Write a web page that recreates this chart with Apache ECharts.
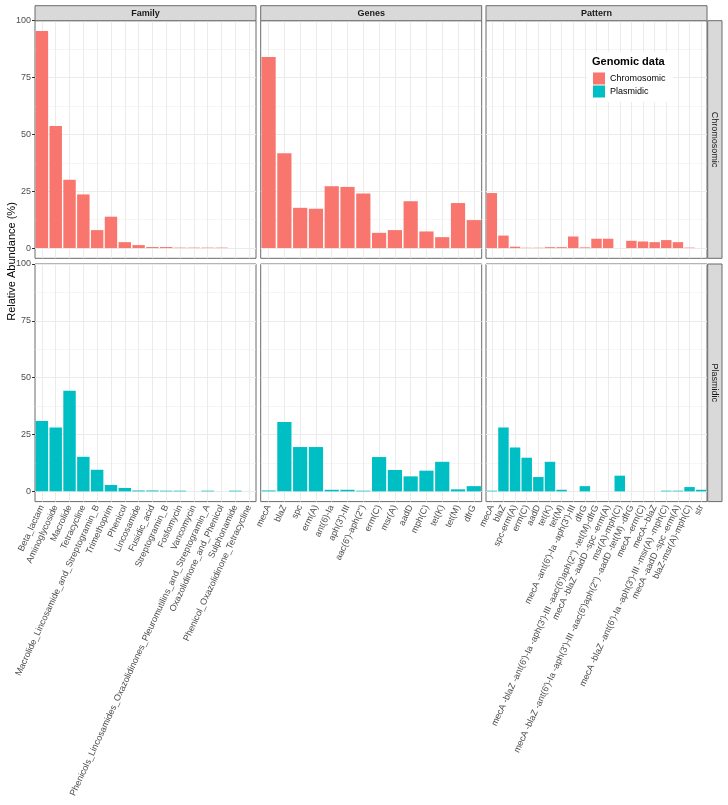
<!DOCTYPE html>
<html><head><meta charset="utf-8">
<script src="https://cdn.jsdelivr.net/npm/echarts@6/dist/echarts.min.js"></script>
<style>html,body{margin:0;padding:0;background:#fff}#c{width:728px;height:805px}</style>
</head><body><div id="c"></div>
<script>
// ---------- data ----------
const familyCats = ['Beta_lactam','Aminoglycoside','Macrolide','Tetracycline','Macrolide_Lincosamide_and_Streptogramin_B','Trimethoprim','Phenicol','Lincosamide','Fusidic_acid','Streptogramin_B','Fosfomycin','Vancomycin','Phenicols_Lincosamides_Oxazolidinones_Pleuromutilins_and_Streptogramin_A','Oxazolidinone_and_Phenicol','Sulphonamide','Phenicol_Oxazolidinone_Tetracycline'];
const familyChromosomic = [95.5,53.7,30.0,23.6,7.9,13.8,2.6,1.3,0.45,0.45,0.2,0.2,0.2,0.2,0,0];
const familyPlasmidic = [31.0,28.1,44.2,15.2,9.5,2.8,1.5,0.4,0.4,0.3,0.3,0,0.3,0,0.3,0];

const geneCats = ['mecA','blaZ','spc','erm(A)','ant(6)-Ia',"aph(3')-III","aac(6')-aph(2'')",'erm(C)','msr(A)','aadD','mph(C)','tet(K)','tet(M)','dfrG'];
const geneChromosomic = [84.0,41.7,17.7,17.3,27.2,26.9,24.0,6.7,7.9,20.6,7.3,4.8,19.8,12.3];
const genePlasmidic = [0.4,30.5,19.5,19.5,0.7,0.7,0.3,15.1,9.4,6.6,9.1,13.0,0.9,2.3];

const patternCats = ['mecA','blaZ','spc-erm(A)','erm(C)','aadD','tet(K)','tet(M)',
  "mecA -ant(6')-Ia -aph(3')-III",'dfrG',
  "mecA -blaZ -ant(6')-Ia -aph(3')-III -aac(6')aph(2'') -tet(M)-dfrG",
  'mecA -blaZ -aadD -spc -erm(A)','msr(A)-mph(C)',
  "mecA -blaZ -ant(6')-Ia -aph(3')-III -aac(6')aph(2'') -aadD -tet(M) -dfrG",
  'mecA -erm(C)','mecA--blaZ',
  "mecA -blaZ -ant(6')-Ia -aph(3')-III -msr(A) -mph(C)",
  'mecA -aadD -spc -erm(A)','blaZ-msr(A)-mph(C)','str'];
const patternChromosomic = [24.2,5.5,0.6,0.15,0.15,0.4,0.4,5.1,0.3,4.1,4.1,0,3.2,2.9,2.6,3.5,2.6,0.2,0];
const patternPlasmidic = [0.3,28.1,19.3,14.8,6.3,13.0,0.7,0,2.3,0,0,6.9,0,0,0,0.3,0.3,1.9,0.7];

const yTicks = [0,25,50,75,100];
const yMinorTicks = [12.5,37.5,62.5,87.5];
const colTitles = ['Family','Genes','Pattern'];
const rowTitles = ['Chromosomic','Plasmidic'];
const legendTitle = 'Genomic data';
const yTitle = 'Relative Abundance (%)';

// ---------- layout ----------
const FONT = "'Liberation Sans', Arial, Helvetica, sans-serif";
const COLORS = ['#F8766D','#00BFC4'];
const colLeft = [35, 260.7, 486];
const panelW = 221;
const rowTop = [20.7, 264];
const panelH = 237.6;
const yMin = -4.5;
const frame = '#6b6b6b';
const gridCol = '#EBEBEB';

const cats = [familyCats, geneCats, patternCats];
const values = [[familyChromosomic, geneChromosomic, patternChromosomic],
                [familyPlasmidic, genePlasmidic, patternPlasmidic]];

const grid = [], xAxis = [], yAxis = [], series = [];
for (let r = 0; r < 2; r++) {
  for (let c = 0; c < 3; c++) {
    const gi = r * 3 + c;
    grid.push({left: colLeft[c], top: rowTop[r], width: panelW, height: panelH,
      show: true, borderColor: frame, borderWidth: 1, backgroundColor: 'transparent'});
    xAxis.push({type: 'category', gridIndex: gi, data: cats[c],
      axisLine: {show: false}, splitLine: {show: false},
      axisTick: {show: r === 1, alignWithLabel: true, length: 3, lineStyle: {color: '#333'}},
      axisLabel: {show: r === 1, rotate: 65, interval: 0, fontSize: 9, color: '#4D4D4D',
                  margin: 4, fontFamily: FONT, hideOverlap: false}});
    yAxis.push({type: 'value', gridIndex: gi, min: yMin, max: 100,
      axisLine: {show: false}, splitLine: {show: false},
      axisTick: {show: c === 0, length: 3, customValues: yTicks, lineStyle: {color: '#333'}},
      axisLabel: {show: c === 0, customValues: yTicks, fontSize: 9, color: '#4D4D4D',
                  margin: 4, fontFamily: FONT}});
    const ml = [];
    yTicks.forEach(v => ml.push({yAxis: v, lineStyle: {width: 1}}));
    yMinorTicks.forEach(v => ml.push({yAxis: v, lineStyle: {width: 0.5}}));
    cats[c].forEach(k => ml.push({xAxis: k, lineStyle: {width: 1}}));
    series.push({type: 'bar', name: rowTitles[r], xAxisIndex: gi, yAxisIndex: gi,
      data: values[r][c], barWidth: '90%', z: 2,
      itemStyle: {color: COLORS[r]},
      markLine: {silent: true, z: 1, symbol: ['none','none'], label: {show: false},
        lineStyle: {color: gridCol, type: 'solid', width: 1}, emphasis: {disabled: true},
        animation: false, data: ml}});
  }
}

const graphic = [];
for (let c = 0; c < 3; c++) {
  graphic.push({type: 'rect', shape: {x: colLeft[c], y: 5.7, width: panelW, height: 15},
    style: {fill: '#D9D9D9', stroke: frame, lineWidth: 1}, z: 5});
  graphic.push({type: 'text', x: colLeft[c] + panelW / 2, y: 13.2,
    style: {text: colTitles[c], font: 'bold 9px ' + FONT, fill: '#1A1A1A',
            textAlign: 'center', textVerticalAlign: 'middle'}, z: 6});
}
for (let r = 0; r < 2; r++) {
  graphic.push({type: 'rect', shape: {x: 707.7, y: rowTop[r], width: 14.3, height: panelH},
    style: {fill: '#D9D9D9', stroke: frame, lineWidth: 1}, z: 5});
  graphic.push({type: 'text', x: 714.9, y: rowTop[r] + panelH / 2, rotation: -Math.PI / 2,
    style: {text: rowTitles[r], font: '9px ' + FONT, fill: '#1A1A1A',
            textAlign: 'center', textVerticalAlign: 'middle'}, z: 6});
}
graphic.push({type: 'text', x: 12, y: 261.5, rotation: Math.PI / 2,
  style: {text: yTitle, font: '11px ' + FONT, fill: '#000',
          textAlign: 'center', textVerticalAlign: 'middle'}, z: 6});
// legend box + title
graphic.push({type: 'rect', shape: {x: 587, y: 52, width: 86, height: 50},
  style: {fill: '#fff'}, z: 10});
graphic.push({type: 'text', x: 592, y: 62,
  style: {text: legendTitle, font: 'bold 11px ' + FONT, fill: '#000',
          textAlign: 'left', textVerticalAlign: 'middle'}, z: 11});

const chart = echarts.init(document.getElementById('c'), null, {renderer: 'canvas'});
chart.setOption({
  animation: false,
  textStyle: {fontFamily: FONT},
  grid, xAxis, yAxis, series, graphic,
  legend: {data: rowTitles, orient: 'vertical', left: 593, top: 72.5, padding: 0,
    itemWidth: 12, itemHeight: 12, itemGap: 1, icon: 'rect', z: 20,
    selectedMode: false,
    textStyle: {fontSize: 9, color: '#000', fontFamily: FONT}}
});
</script></body></html>
